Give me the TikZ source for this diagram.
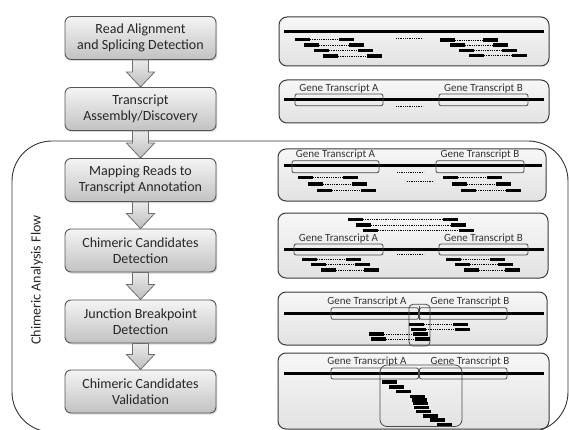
\documentclass[tikz,border=0pt]{standalone}
\usepackage{fontspec}
\setmainfont{Carlito}
\usetikzlibrary{calc,shadows}
\definecolor{boxline}{HTML}{555555}
\definecolor{boxtop}{HTML}{F4F4F4}
\definecolor{boxbot}{HTML}{C2C2C2}
\definecolor{txt}{HTML}{262626}
\definecolor{panline}{HTML}{3A3A3A}
\definecolor{pantop}{HTML}{F7F7F7}
\definecolor{panbot}{HTML}{E2E2E2}
\definecolor{geneline}{HTML}{4A4A4A}
\definecolor{lbl}{HTML}{333333}
\definecolor{arrline}{HTML}{6E6E6E}
\definecolor{arrtop}{HTML}{EAEAEA}
\definecolor{arrbot}{HTML}{BDBDBD}
\definecolor{frameline}{HTML}{333333}
\newcommand\rdpair[3]{\fill (#1,#3-1.8) rectangle (#1+15,#3+1.8); \draw[dots] (#1+15,#3) -- (#2,#3); \fill (#2,#3-1.8) rectangle (#2+15,#3+1.8);}
\newcommand\rdone[2]{\fill (#1,#2-1.8) rectangle (#1+15,#2+1.8);}
\newcommand\blkarrow[2]{\path[blockarrow] let \p1=(#1.south), \p2=(#2.north) in (\x1-8pt,\y1) -- (\x1+8pt,\y1) -- (\x1+8pt,\y2+15pt) -- (\x1+14pt,\y2+15pt) -- (\x2,\y2) -- (\x1-14pt,\y2+15pt) -- (\x1-8pt,\y2+15pt) -- cycle;}
\begin{document}
\begin{tikzpicture}[x=1pt,y=-1pt,
  stepbox/.style={draw=boxline, line width=0.9pt, rounded corners=6pt, top color=boxtop, bottom color=boxbot, minimum width=151pt, minimum height=43pt, align=center, text=txt, font=\fontsize{14}{16}\selectfont, inner sep=0pt, drop shadow={shadow xshift=1.2pt, shadow yshift=-1.5pt, opacity=0.3}},
  panel/.style={draw=panline, line width=1pt, rounded corners=8pt, top color=pantop, bottom color=panbot, inner sep=0pt},
  genome/.style={line width=3pt},
  genebox/.style={draw=geneline, line width=0.8pt, rounded corners=2pt},
  genelabel/.style={font=\fontsize{11}{12}\selectfont, text=lbl, inner sep=0pt},
  blockarrow/.style={draw=arrline, line width=0.8pt, top color=arrtop, bottom color=arrbot},
  frame/.style={draw=frameline, line width=0.9pt, rounded corners=40pt},
  dots/.style={line width=0.8pt, dash pattern=on 0.9pt off 0.9pt}
]
\clip (0,0) rectangle (569,430);
% frame
\path[frame] (12,141) rectangle (568,432);
\node[rotate=90, font=\fontsize{14}{16}\selectfont, text=txt] (flow) at (37,280) {Chimeric Analysis Flow};
% left steps
\node[stepbox] (b1) at (140.5,38) {Read Alignment\\and Splicing Detection};
\node[stepbox] (b2) at (140.5,109) {Transcript\\Assembly/Discovery};
\node[stepbox] (b3) at (140.5,180) {Mapping Reads to\\Transcript Annotation};
\node[stepbox] (b4) at (140.5,250.5) {Chimeric Candidates\\Detection};
\node[stepbox] (b5) at (140.5,321.5) {Junction Breakpoint\\Detection};
\node[stepbox] (b6) at (140.5,391.5) {Chimeric Candidates\\Validation};
\blkarrow{b1}{b2}
\blkarrow{b2}{b3}
\blkarrow{b3}{b4}
\blkarrow{b4}{b5}
\blkarrow{b5}{b6}
% panels
\node[panel, minimum width=270pt, minimum height=49pt] (p1) at (414,41.5) {};
\node[panel, minimum width=270pt, minimum height=43pt] (p2) at (414,101.5) {};
\node[panel, minimum width=268pt, minimum height=52pt] (p3) at (412,175) {};
\node[panel, minimum width=270pt, minimum height=65pt] (p4) at (413,245.5) {};
\node[panel, minimum width=269pt, minimum height=53pt] (p5) at (412.5,318.5) {};
\node[panel, minimum width=271pt, minimum height=76pt] (p6) at (413.5,391) {};
% panel 1
\draw[genome] (284,32) -- (544,32);
\rdpair{295}{339}{39.5}
\rdpair{304}{349}{45}
\rdpair{314}{358}{50.5}
\rdpair{323}{367}{56}
\draw[dots] (396,38.7) -- (423,38.7);
\rdpair{440}{483}{40}
\rdpair{450}{493}{45}
\rdpair{459}{502}{50.5}
\rdpair{469}{512}{55.5}
% panel 2
\draw[genome] (284,99.5) -- (544,99.5);
\path[genebox] (295,94) rectangle (383,105.7);
\path[genebox] (439,94) rectangle (528,105.7);
\node[genelabel] (l2a) at (339,88.5) {Gene Transcript A};
\node[genelabel] (l2b) at (483.5,88.5) {Gene Transcript B};
\draw[dots] (396,106) -- (423,106);
% panel 3
\draw[genome] (284,166) -- (542,166);
\path[genebox] (292,160.7) rectangle (379,172.7);
\path[genebox] (436,160.7) rectangle (524,172.7);
\node[genelabel] (l3a) at (335.5,155) {Gene Transcript A};
\node[genelabel] (l3b) at (480,155) {Gene Transcript B};
\rdpair{298}{343}{177.5}
\rdpair{308}{352}{184}
\rdpair{317}{361}{190.5}
\rdpair{443}{487}{177.5}
\rdpair{452}{496}{184}
\rdpair{461}{506}{190.5}
\draw[dots] (397,172.7) -- (424,172.7);
\draw[dots] (407,181.7) -- (433,181.7);
% panel 4
\rdpair{348}{443}{219.5}
\rdpair{356}{451}{225}
\rdpair{363}{459}{230.5}
\node[genelabel] (l4a) at (338.5,239) {Gene Transcript A};
\node[genelabel] (l4b) at (483.5,239) {Gene Transcript B};
\draw[genome] (284,249.5) -- (544,249.5);
\path[genebox] (294,244) rectangle (383,255);
\path[genebox] (439,244) rectangle (528,255);
\rdpair{302}{346}{259.5}
\rdpair{311}{355}{264.5}
\rdpair{321}{364}{270}
\rdpair{446}{490}{259.5}
\rdpair{455}{497.5}{264.5}
\rdpair{464}{505}{270}
\draw[dots] (397,254.3) -- (424,254.3);
% panel 5
\node[genelabel] (l5a) at (367,302) {Gene Transcript A};
\node[genelabel] (l5b) at (470,302) {Gene Transcript B};
\draw[genome] (284,313.5) -- (544,313.5);
\path[genebox] (331,307.7) rectangle (418.5,319.3);
\path[genebox] (419.5,307.7) rectangle (507,319.3);
\draw[geneline, line width=0.8pt] (419,305.5) -- (419,320);
\path[genebox, rounded corners=4pt] (409,304.3) rectangle (430,346);
\rdpair{409}{453}{324.3}
\rdpair{411}{455}{329.3}
\rdpair{369}{413}{334}
\rdpair{371}{415}{339}
% panel 6
\node[genelabel] (l6a) at (367,362) {Gene Transcript A};
\node[genelabel] (l6b) at (470,362) {Gene Transcript B};
\draw[genome] (284,373.5) -- (544,373.5);
\path[genebox] (331,368) rectangle (418.5,379);
\path[genebox] (419.5,368) rectangle (507,379);
\path[genebox, rounded corners=7pt] (380,365) rectangle (462,426.5);
\rdone{382}{382}
\rdone{389}{387}
\rdone{396}{391.5}
\rdone{410}{396.5}
\rdone{412}{400}
\rdone{413}{403.5}
\rdone{414}{407.5}
\rdone{416}{411.5}
\rdone{423}{416}
\rdone{430}{420}
\rdone{437}{424.5}
\end{tikzpicture}
\end{document}
